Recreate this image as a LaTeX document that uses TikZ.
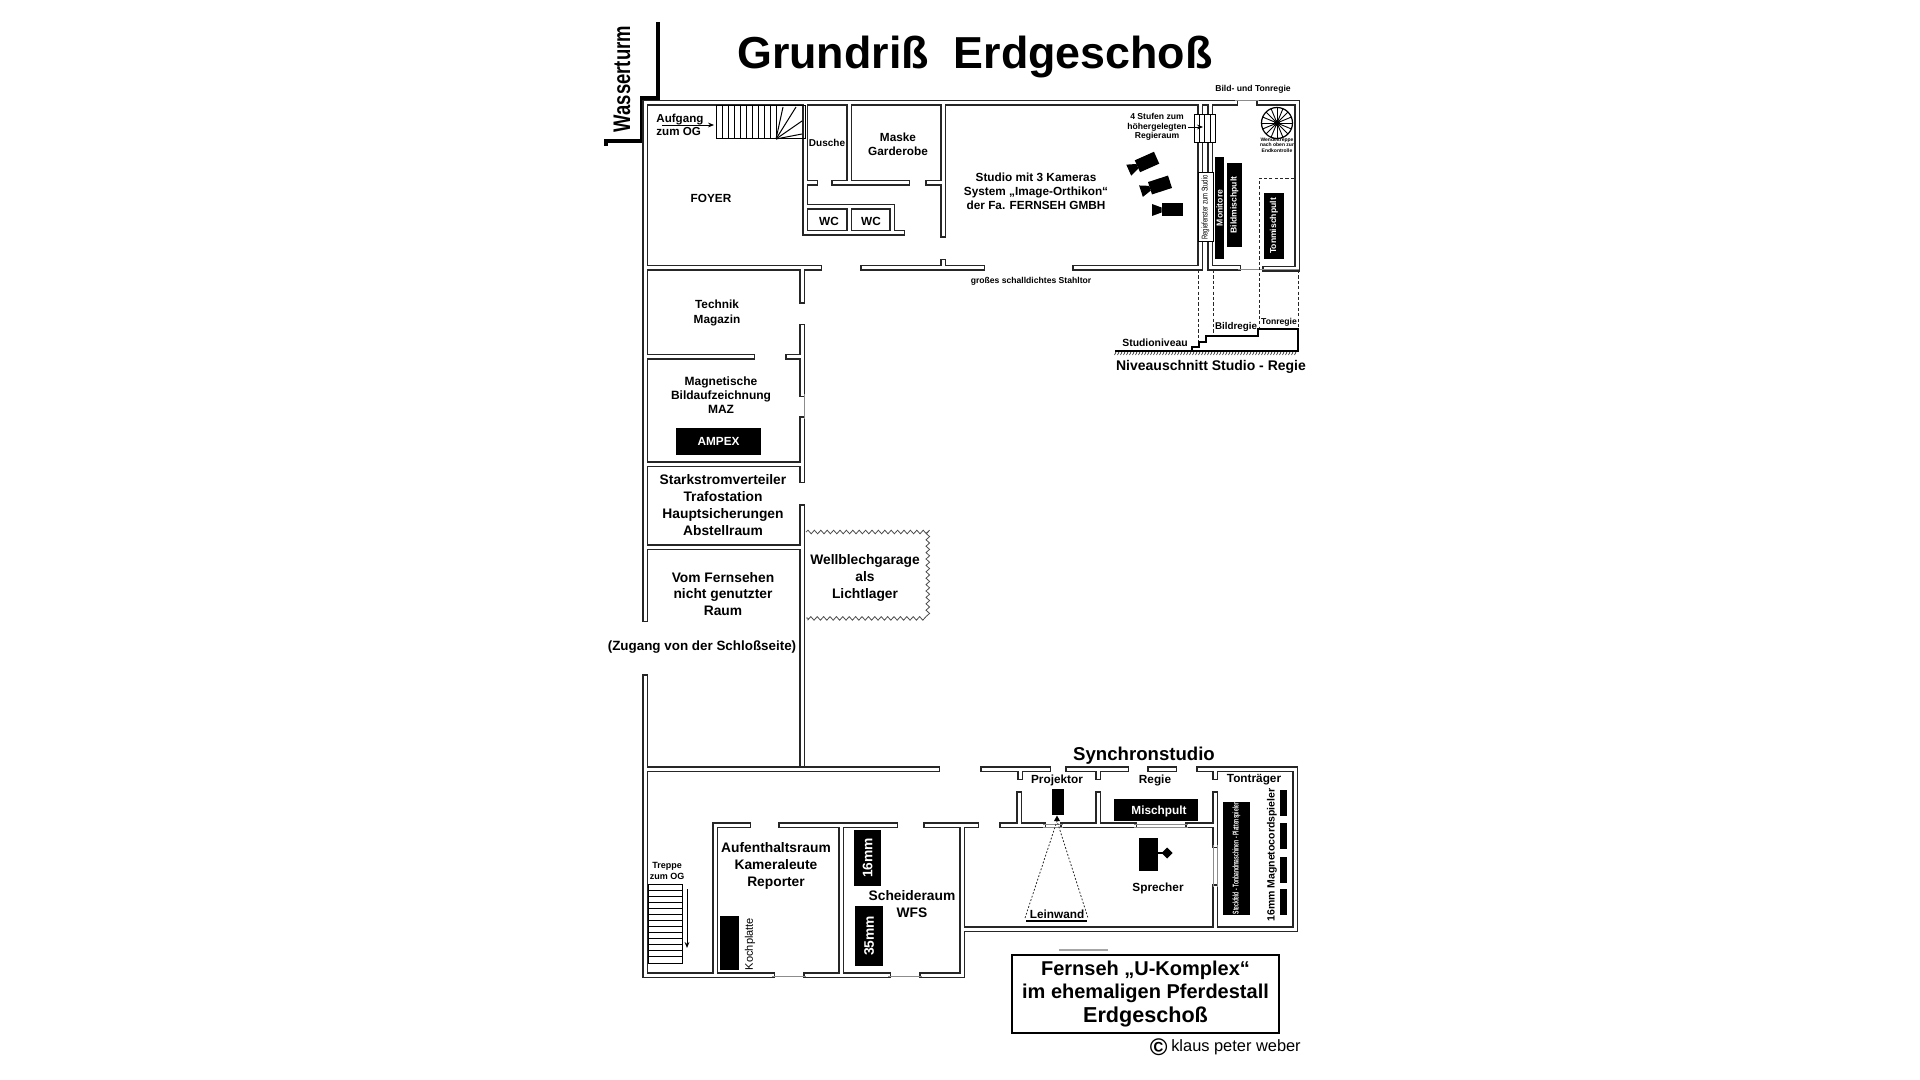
\documentclass[tikz,border=0pt]{standalone}
\usepackage{fontspec}
\setmainfont{Liberation Sans}
\usetikzlibrary{arrows.meta}
\usetikzlibrary{positioning}
\usetikzlibrary{decorations.pathmorphing}

\tikzset{
	wall/.style={preaction={draw=black!85, line width=2.6pt, line cap=rect}, draw=white, line width=1.5pt, line cap=rect},
	thinwall/.style={draw=black!45, line width=.5pt},
	strich/.style={draw=black!85, line width=.4pt, dash pattern=on 1.6pt off 1.1pt},
	lab/.style 2 args={font=\bfseries\fontsize{#1}{#2}\selectfont, align=center, inner sep=0pt},
	room/.style={lab={5.9}{7.1}},
	big/.style={lab={6.9}{8.4}},
	tiny/.style={lab={4.3}{4.8}},
	inv/.style={text=white},
	pfeil/.style={-{Stealth[length=3pt, width=2.4pt]}, line width=.45pt},
	pics/kamera/.style={code={
		\fill (-10.5,-6.5) rectangle (10.5,6.5);
		\fill (-10.5,-2.5) to (-20,-6) to (-20,6) to (-10.5,2.5) -- cycle;
	}},
}

\begin{document}
\begin{tikzpicture}[x=.5pt, y=-.5pt]
	\useasboundingbox (0,0) rectangle (1920,1080);
	%Überschrift
	\node (titel) [lab={22.4}{26}] at (975,57) {Grundriß\ \ Erdgeschoß};
	\node (turm) [inner sep=0pt, rotate=90, font=\bfseries\fontsize{12}{12}\selectfont] at (622,79) {\scalebox{.77}[1]{Wasserturm}};
	\draw [line width=2.3pt, black] (658,22) to (658,98) to (642,98) to (642,141) to (606,141) to (606,146);
	%Mauern oben
	\draw [wall] (645,103) to (1235,103) (1259,103) to (1297,103) to (1297,269) to (1265,269)
		(645,103) to (645,619) (805,103) to (805,233) (849,103) to (849,183) (943,103) to (943,235)
		(805,183) to (815,183) (834,183) to (907,183) (928,183) to (943,183)
		(805,207) to (892,207) to (892,233) (849,207) to (849,233) (805,233) to (902,233)
		(645,268) to (819,268) (863,268) to (982,268) (943,268) to (943,262)
		(1075,268) to (1200,268) (1210,268) to (1238,268)
		(1200,103) to (1200,115) (1210,103) to (1210,115) (1200,143) to (1200,268) (1210,143) to (1210,268)
		(802,268) to (802,301) (802,327) to (802,394) (802,419) to (802,480) (802,507) to (802,769)
		(645,357) to (752,357) (788,357) to (802,357) (645,464) to (802,464) (645,547) to (802,547);
	\draw [thinwall] (1235,101) to (1259,101) (1238,270) to (1299,270) (804,394) to (804,419);
	%Mauern unten
	\draw [wall] (645,677) to (645,975) to (772,975) (806,975) to (888,975) (922,975) to (962,975) to (962,825) to (975,825)
		(645,769) to (937,769) (715,825) to (715,975) (715,825) to (748,825) (781,825) to (895,825) (926,825) to (976,825)
		(841,825) to (841,975) (983,769) to (1048,769) (1068,769) to (1126,769) (1150,769) to (1174,769)
		(1199,769) to (1295,769) to (1295,929) to (962,929) (1020,769) to (1020,777) (1098,769) to (1098,777) (1215,769) to (1215,777)
		(1002,825) to (1043,825) (1063,825) to (1134,825) (1188,825) to (1215,825)
		(1019,794) to (1019,825) (1098,794) to (1098,825) (1215,794) to (1215,845) (1215,887) to (1215,929);
	\draw [thinwall] (772,976) to (806,976) (888,976) to (922,976) (1043,824) to (1063,824) (1043,827) to (1063,827)
		(1134,824) to (1188,824) (1134,827) to (1188,827) (1213,845) to (1213,887) (1217,845) to (1217,887);
	\draw [thinwall, black!35, line width=.7pt] (1059,950) to (1108,950);
	%Treppe Foyer
	\draw [line width=.5pt] (716,106) rectangle (805,139);
	\foreach \x in {722,728,...,776} \draw [line width=.5pt] (\x,106) to (\x,139);
	\foreach \x/\y in {783/107,796/107,802/121,802/134} \draw [line width=.5pt] (776,139) to (\x,\y);
	\draw [pfeil] (662,125) to (714,125);
	\node (aufgang) [lab={5.8}{6.6}, align=left, anchor=west] at (656,125) {Aufgang\\zum OG};
	\node (dusche) [lab={5}{6}] at (827,143) {Dusche};
	\node (maske) [room] at (898,144) {Maske\\Garderobe};
	\node (foyer) [room] at (711,198) {FOYER};
	\node (wc1) [room] at (829,221) {WC};
	\node (wc2) [room] at (871,221) {WC};
	%Studio
	\node (studio) [room] at (1036,191) {Studio mit 3 Kameras\\System „Image-Orthikon“\\der Fa. FERNSEH GMBH};
	\node (stahltor) [tiny] at (1031,281) {großes schalldichtes Stahltor};
	\pic (cam1) [rotate=24] at (1147,162) {kamera};
	\pic (cam2) [rotate=18] at (1160,185) {kamera};
	\pic (cam3) at (1172,210) {kamera};
	%Regie
	\node (regie) [tiny] at (1253,89) {Bild- und Tonregie};
	\draw [line width=.5pt, fill=white] (1194,115) rectangle (1215,143);
	\foreach \x in {1199,1204,1210} \draw [line width=.5pt] (\x,115) to (\x,143);
	\node (stufen) [lab={4.3}{4.75}] at (1157,127) {4 Stufen zum\\höhergelegten\\Regieraum};
	\draw [pfeil] (1188,127) to (1203,127);
	\draw [line width=.5pt, fill=white] (1198,173) rectangle node (fenster) [rotate=90, font=\fontsize{4.2}{4.2}\selectfont, inner sep=0pt] {\scalebox{.7}[1]{Regiefenster zum Studio}} (1213,242);
	\fill (1215,157) rectangle node (monitore) [tiny, inv, rotate=90] {Monitore} (1224,259);
	\fill (1227,163) rectangle node (bildpult) [tiny, inv, rotate=90] {Bildmischpult} (1242,247);
	\fill (1264,193) rectangle node (tonpult) [tiny, inv, rotate=90] {Tonmischpult} (1284,259);
	\draw [line width=.6pt] (1277,123) circle [radius=15.5];
	\foreach \a in {0,22.5,...,337.5} \draw [line width=.45pt] (1277,123) to ++(\a:15.5);
	\fill (1277,123) circle [radius=3];
	\node (wendel) [lab={2.5}{2.85}] at (1277,145) {Wendeltreppe\\nach oben zur\\Endkontrolle};
	\draw [strich] (1294,178) to (1259,178) to (1259,327) (1298,270) to (1298,328) (1213,270) to (1213,335) (1198,270) to (1198,347);
	%Niveauschnitt
	\draw [line width=.6pt] (1115,351) to (1298,351) to (1298,329) to (1258,329) to (1258,336) to (1206,336) to (1206,342) to (1199,342) to (1199,347) to (1192,347) to (1192,351);
	\foreach \x in {1116,1119,...,1298} \draw [line width=.3pt] (\x,352) to ++(-1.5,3);
	\node (niveau) [lab={5.2}{6}] at (1155,343) {Studioniveau};
	\node (bildregie) [lab={4.9}{6}] at (1236,327) {Bildregie};
	\node (tonregie) [lab={4.3}{6}] at (1279,322) {Tonregie};
	\node (schnitt) [lab={7}{8}] at (1211,367) {Niveauschnitt Studio - Regie};
	%Mitte
	\node (technik) [room] at (717,313) {Technik\\Magazin};
	\node (maz) [lab={6}{7}] at (721,395) {Magnetische\\Bildaufzeichnung\\MAZ};
	\fill (676,428) rectangle node (ampex) [room, inv] {AMPEX} (761,455);
	\node (trafo) [big] at (723,505) {Starkstromverteiler\\Trafostation\\Hauptsicherungen\\Abstellraum};
	\node (raum) [big] at (723,594) {Vom Fernsehen\\nicht genutzter\\Raum};
	\node (zugang) [lab={6.7}{8}] at (702,647) {(Zugang von der Schloßseite)};
	\draw [draw=black!70, line width=.4pt, decorate, decoration={snake, segment length=3.2pt, amplitude=.9pt}] (806,532) to (929,532) to (929,618) to (806,618);
	\node (garage) [big] at (865,578) {Wellblechgarage\\als\\Lichtlager};
	%Unten links
	\node (treppe) [lab={4.5}{5.5}] at (667,871) {Treppe\\zum OG};
	\draw [line width=.5pt] (648,884) rectangle (682,963);
	\foreach \y in {890,896,...,958} \draw [line width=.5pt] (648,\y) to (682,\y);
	\draw [pfeil, line width=.5pt] (687,889) to (687,948);
	\node (aufenthalt) [big] at (776,866) {Aufenthaltsraum\\Kameraleute\\Reporter};
	\fill (720,916) rectangle (739,970);
	\node (koch) [inner sep=0pt, rotate=90, font=\fontsize{5.5}{6}\selectfont] at (750,944) {Kochplatte};
	\fill (854,830) rectangle node (m16) [big, inv, rotate=90] {16mm} (881,886);
	\fill (855,906) rectangle node (m35) [big, inv, rotate=90] {35mm} (883,966);
	\node (scheide) [big] at (912,904) {Scheideraum\\WFS};
	%Synchronstudio
	\node (synchron) [lab={9.3}{10}] at (1144,756) {Synchronstudio};
	\node (projektor) [room] at (1057,780) {Projektor};
	\node (regie2) [room] at (1155,780) {Regie};
	\node (tontraeger) [room] at (1254,780) {Tonträger};
	\fill (1052,789) rectangle (1064,815);
	\fill (1057,815.5) to (1054,821) to (1060,821) -- cycle;
	\draw [strich, dash pattern=on .9pt off .9pt] (1025,918) to (1057,821) to (1088,918);
	\draw [line width=.6pt] (1026,921) to (1087,921);
	\node (leinwand) [room, fill=white, inner sep=.4pt] at (1057,914) {Leinwand};
	\fill (1114,799) rectangle (1198,821);
	\node (mischpult) [room, inv] at (1159,811) {Mischpult};
	\fill (1139,838) rectangle (1158,871);
	\draw [line width=.8pt] (1158,853) to (1163,853);
	\fill (1167,847.5) to (1172.5,853) to (1167,858.5) to (1161.5,853) -- cycle;
	\node (sprecher) [room] at (1158,888) {Sprecher};
	\fill (1223,802) rectangle node (steckfeld) [rotate=90, inv, inner sep=0pt, font=\bfseries\fontsize{4.2}{4.2}\selectfont] {\scalebox{.6}[1]{Steckfeld - Tonbandmaschinen - Plattenspieler}} (1250,915);
	\foreach \y/\z in {790/816,823/849,857/883,889/915} \fill (1280,\y) rectangle (1287,\z);
	\node (cord) [lab={5.25}{6}, rotate=90] at (1272,855) {16mm Magnetocordspieler};
	%Legende
	\node (legende) [draw, line width=.7pt, lab={10}{11.6}, minimum width=133.5pt, minimum height=39pt] at (1145.5,994) {Fernseh „U-Komplex“\\im ehemaligen Pferdestall\\\fontsize{10.8}{11.6}\selectfont Erdgeschoß};
	\node (copy) [font=\fontsize{8.2}{8.2}\selectfont, inner sep=0pt] at (1236,1047) {klaus peter weber};
	\node (copyzeichen) [font=\bfseries\fontsize{12}{12}\selectfont, inner sep=0pt, left=1.5pt of copy] {©};
\end{tikzpicture}
\end{document}
